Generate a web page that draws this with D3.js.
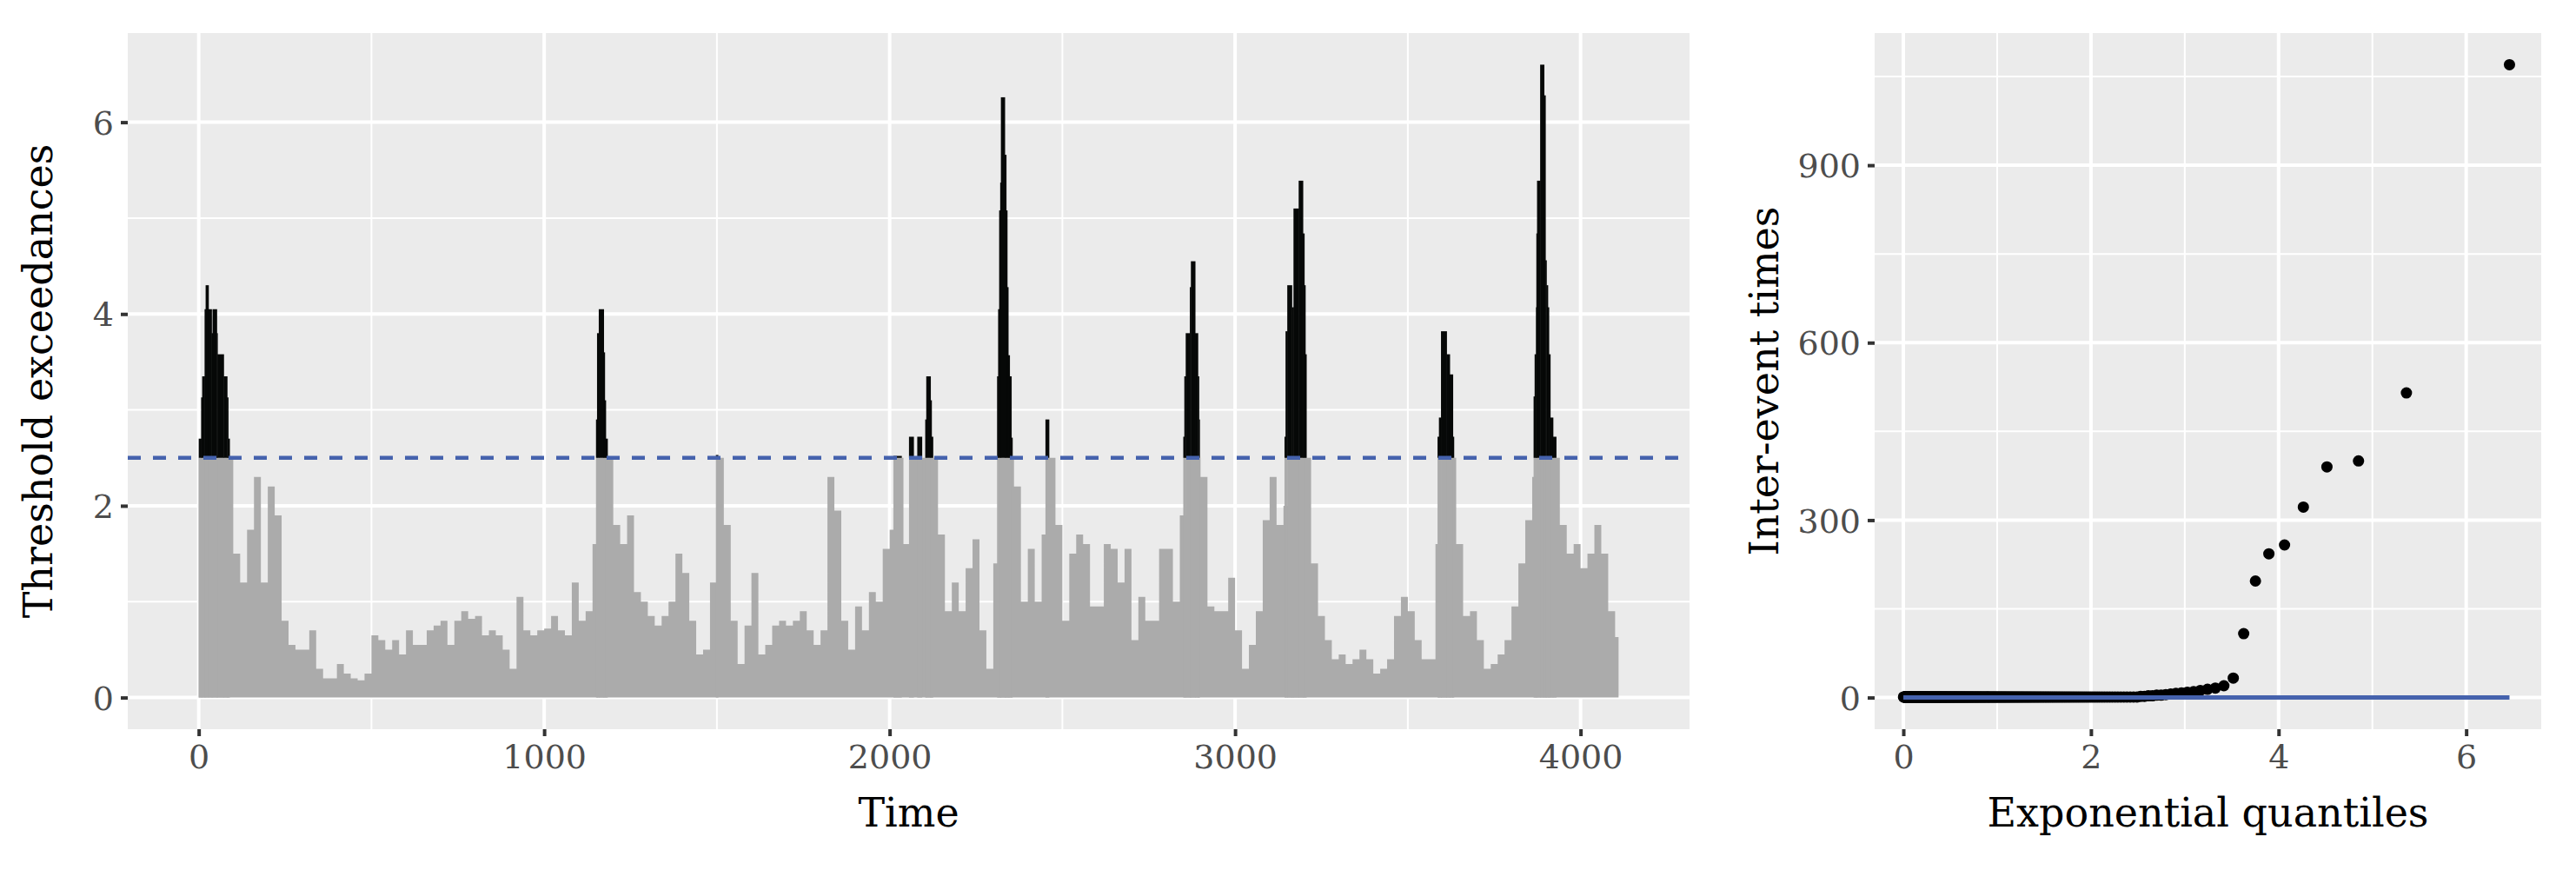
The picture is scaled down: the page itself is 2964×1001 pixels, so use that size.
<!DOCTYPE html>
<html><head><meta charset="utf-8">
<script src="https://cdn.jsdelivr.net/npm/d3@7"></script>
<style>body{margin:0;background:#fff}svg{display:block}text{font-family:"DejaVu Serif",serif}</style>
</head><body><svg id="c" width="2964" height="1001"></svg>
<script>
// Time series sampled every 20 time units (t = 0, 20, ..., 4100)
const seriesStep = 20;
const seriesValues = [
2.7,4.05,4.05,3.58,3.35,1.5,1.2,1.75,2.3,1.2,2.2,1.9,0.8,0.55,0.5,0.5,0.7,0.3,0.2,0.2,
0.35,0.25,0.2,0.18,0.25,0.65,0.6,0.5,0.6,0.45,0.7,0.55,0.55,0.7,0.75,0.8,0.55,0.8,0.9,0.82,
0.85,0.65,0.7,0.65,0.5,0.3,1.05,0.7,0.65,0.7,0.72,0.85,0.7,0.65,1.2,0.8,0.9,1.6,4.05,2.7,
1.8,1.6,1.9,1.1,1.0,0.85,0.75,0.85,1.0,1.5,1.3,0.8,0.45,0.5,1.2,2.5,1.8,0.8,0.35,0.75,
1.3,0.45,0.55,0.75,0.8,0.75,0.8,0.9,0.7,0.55,0.7,2.3,1.95,0.8,0.5,0.95,0.7,1.1,1.0,1.55,
1.75,2.5,1.6,2.5,2.5,2.5,3.1,1.7,0.9,1.2,0.9,1.35,1.65,0.7,0.3,1.4,2.5,4.28,2.2,1.0,
1.55,1.0,1.7,2.5,1.8,0.8,1.5,1.7,1.6,0.95,0.95,1.6,1.55,1.2,1.55,0.6,1.05,0.8,0.8,1.55,
1.55,1.0,1.9,2.5,2.5,2.3,0.95,0.9,0.9,1.25,0.7,0.3,0.55,0.9,1.85,2.3,1.8,2.0,2.5,2.5,
4.3,1.4,0.85,0.6,0.4,0.45,0.35,0.4,0.5,0.4,0.25,0.3,0.4,0.85,1.05,0.9,0.6,0.4,0.4,1.6,
2.5,2.5,1.6,0.85,0.9,0.6,0.3,0.35,0.45,0.6,0.95,1.4,1.85,2.3,2.5,2.5,2.5,1.8,1.5,1.6,
1.35,1.5,1.8,1.5,0.9,0.63];
const seriesEnd = 4110;
const threshold = 2.5;
// Exceedances: [time, value] steps; null value closes a cluster
const exceedances = [
[0,2.7],[7,3.13],[10,3.35],[17,4.05],[20,4.3],[28,4.05],[37,3.8],[40,4.05],[52,3.8],[54,3.58],[72,3.35],[82,3.13],[85,2.7],[89,null],
[1150,2.9],[1153,3.8],[1158,4.05],[1172,3.6],[1175,3.1],[1178,2.7],[1183,null],
[1497,2.53],[1503,null],
[2011,2.52],[2034,null],
[2056,2.72],[2069,null],
[2080,2.72],[2093,null],
[2103,2.9],[2106,3.35],[2118,3.1],[2121,2.72],[2125,null],
[2311,3.35],[2314,4.05],[2317,5.08],[2320,5.37],[2322,6.26],[2333,5.66],[2337,5.08],[2340,4.28],[2343,3.57],[2347,3.35],[2352,2.71],[2355,null],
[2451,2.9],[2461,null],
[2850,2.72],[2853,3.35],[2857,3.8],[2869,4.28],[2872,4.55],[2884,3.8],[2892,3.35],[2895,2.9],[2897,null],
[3143,2.72],[3146,3.82],[3151,4.3],[3164,4.07],[3169,5.1],[3184,5.39],[3196,4.84],[3200,4.3],[3203,3.58],[3206,null],
[3586,2.72],[3590,2.92],[3596,3.82],[3612,3.58],[3621,3.37],[3630,2.72],[3633,null],
[3864,3.14],[3867,3.58],[3871,4.07],[3872,4.84],[3874,5.39],[3883,6.6],[3894,6.28],[3898,4.56],[3901,4.3],[3905,4.07],[3908,3.58],[3912,2.92],[3920,2.72],[3929,null]];
const leftXTicks = [0,1000,2000,3000,4000];
const leftYTicks = [0,2,4,6];

// Inter-event times, largest first; remaining events are consecutive (time 1)
const nEvents = 320;
const largeTimes = [1070,515,400,390,322,258,243,197,108,33,20,16,14,12,10,9,8,7,6,5,4,4,3,3,2,2];
const unitTime = 1;
const rightXTicks = [0,2,4,6];
const rightYTicks = [0,300,600,900];

const svg = d3.select("#c");
const tickCol = "#4d4d4d";

function panel(x0,x1,y0,y1,xs,ys,xt,yt,xminor,yminor){
  svg.append("rect").attr("x",x0).attr("y",y0).attr("width",x1-x0).attr("height",y1-y0).attr("fill","#ebebeb");
  const g = svg.append("g");
  xminor.forEach(v=>g.append("line").attr("x1",xs(v)).attr("x2",xs(v)).attr("y1",y0).attr("y2",y1).attr("stroke","#fff").attr("stroke-width",2));
  yminor.forEach(v=>g.append("line").attr("y1",ys(v)).attr("y2",ys(v)).attr("x1",x0).attr("x2",x1).attr("stroke","#fff").attr("stroke-width",2));
  xt.forEach(v=>g.append("line").attr("x1",xs(v)).attr("x2",xs(v)).attr("y1",y0).attr("y2",y1).attr("stroke","#fff").attr("stroke-width",4));
  yt.forEach(v=>g.append("line").attr("y1",ys(v)).attr("y2",ys(v)).attr("x1",x0).attr("x2",x1).attr("stroke","#fff").attr("stroke-width",4));
}
function axes(x0,x1,y0,y1,xs,ys,xt,yt,xlab,ylab,ylabX){
  const ax = svg.append("g").attr("transform",`translate(0,${y1})`)
    .call(d3.axisBottom(xs).tickValues(xt).tickFormat(d3.format("d")).tickSize(8).tickPadding(10).tickSizeOuter(0));
  ax.select(".domain").remove();
  ax.selectAll("line").attr("stroke","#333").attr("stroke-width",4);
  ax.selectAll("text").attr("fill",tickCol).attr("font-size",38).attr("font-family","DejaVu Serif");
  const ay = svg.append("g").attr("transform",`translate(${x0},0)`)
    .call(d3.axisLeft(ys).tickValues(yt).tickFormat(d3.format("d")).tickSize(8).tickPadding(8).tickSizeOuter(0));
  ay.select(".domain").remove();
  ay.selectAll("line").attr("stroke","#333").attr("stroke-width",4);
  ay.selectAll("text").attr("fill",tickCol).attr("font-size",38).attr("font-family","DejaVu Serif").attr("dy","0.36em");
  svg.append("text").attr("x",(x0+x1)/2).attr("y",y1+112).attr("text-anchor","middle").attr("font-size",46).text(xlab);
  svg.append("text").attr("transform",`translate(${ylabX},${(y0+y1)/2}) rotate(-90)`).attr("text-anchor","middle").attr("font-size",46).text(ylab);
}

// ---------- Left panel ----------
const L = {x0:147,x1:1944,y0:38,y1:839};
const lx = d3.scaleLinear().domain([-205.4,4315.4]).range([L.x0,L.x1]);
const ly = d3.scaleLinear().domain([-0.33,6.93]).range([L.y1,L.y0]);
panel(L.x0,L.x1,L.y0,L.y1,lx,ly,[0,1000,2000,3000,4000],leftYTicks,[500,1500,2500,3500],[1,3,5]);

const pts = seriesValues.map((v,i)=>({t:i*seriesStep,v:Math.min(v,threshold)}));
pts.push({t:seriesEnd,v:pts[pts.length-1].v});
const area = d3.area().curve(d3.curveStepAfter).x(d=>lx(d.t)).y0(ly(0)).y1(d=>ly(d.v));
svg.append("path").datum(pts).attr("d",area).attr("fill","#ababab");

const bars=[];
for(let i=0;i<exceedances.length-1;i++){
  const [t,v]=exceedances[i]; if(v===null) continue;
  bars.push({t0:t,t1:exceedances[i+1][0],v});
}
svg.append("g").selectAll("rect").data(bars).join("rect")
  .attr("x",d=>lx(d.t0)).attr("width",d=>lx(d.t1)-lx(d.t0)+0.5)
  .attr("y",ly(threshold)).attr("height",ly(0)-ly(threshold)).attr("fill","#ababab");
svg.append("g").selectAll("rect").data(bars).join("rect")
  .attr("x",d=>lx(d.t0)).attr("width",d=>lx(d.t1)-lx(d.t0)+0.5)
  .attr("y",d=>ly(d.v)).attr("height",d=>ly(threshold)-ly(d.v)).attr("fill","#060807");
svg.append("line").attr("x1",L.x0).attr("x2",L.x1).attr("y1",ly(threshold)).attr("y2",ly(threshold))
  .attr("stroke","#4562ad").attr("stroke-width",4.5).attr("stroke-dasharray","15 14");
axes(L.x0,L.x1,L.y0,L.y1,lx,ly,leftXTicks,leftYTicks,"Time","Threshold exceedances",60);

// ---------- Right panel ----------
const R = {x0:2157,x1:2924,y0:38,y1:839};
const rx = d3.scaleLinear().domain([-0.306,6.80]).range([R.x0,R.x1]);
const ry = d3.scaleLinear().domain([-53.5,1123.5]).range([R.y1,R.y0]);
panel(R.x0,R.x1,R.y0,R.y1,rx,ry,rightXTicks,rightYTicks,[1,3,5],[150,450,750,1050]);

const times = largeTimes.concat(d3.range(nEvents-largeTimes.length).map(()=>unitTime)).sort(d3.ascending);
const qq = times.map((y,i)=>({q:-Math.log(1-(i+0.5)/nEvents),y}));
svg.append("g").selectAll("circle").data(qq).join("circle")
  .attr("cx",d=>rx(d.q)).attr("cy",d=>ry(d.y)).attr("r",6.5).attr("fill","#000");
const qmax = d3.max(qq,d=>d.q);
svg.append("line").attr("x1",rx(0)).attr("x2",rx(qmax)).attr("y1",ry(0)).attr("y2",ry(0))
  .attr("stroke","#4562ad").attr("stroke-width",5);
axes(R.x0,R.x1,R.y0,R.y1,rx,ry,rightXTicks,rightYTicks,"Exponential quantiles","Inter-event times",2046);
</script></body></html>
